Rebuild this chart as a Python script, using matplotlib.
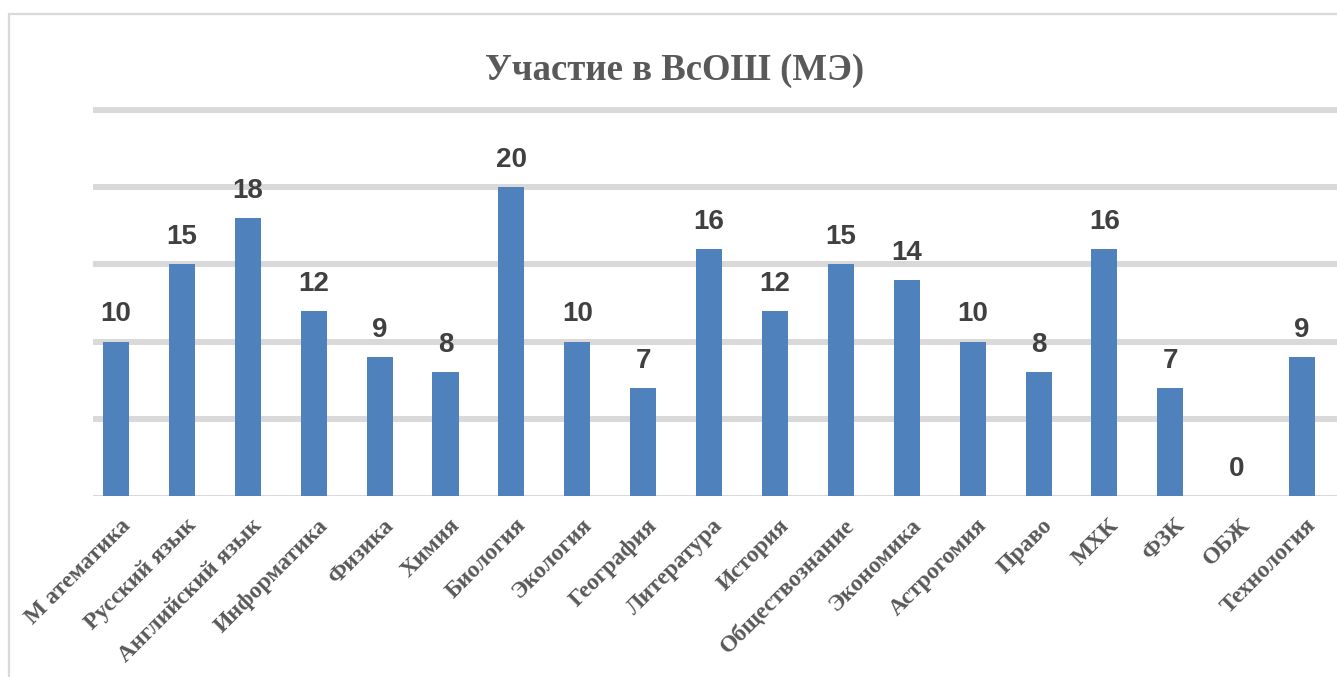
import matplotlib
matplotlib.use("Agg")
import matplotlib.pyplot as plt
import matplotlib.transforms as mtransforms
from matplotlib.patches import Rectangle

categories = ["М атематика", "Русский язык", "Английский язык", "Информатика",
              "Физика", "Химия", "Биология", "Экология", "География",
              "Литература", "История", "Обществознание", "Экономика",
              "Астрогомия", "Право", "МХК", "ФЗК", "ОБЖ", "Технология"]
values = [10, 15, 18, 12, 9, 8, 20, 10, 7, 16, 12, 15, 14, 10, 8, 16, 7, 0, 9]
title = "Участие в ВсОШ (МЭ)"

W, H = 1337, 677
fig = plt.figure(figsize=(W / 100, H / 100), dpi=100)
fig.patch.set_facecolor("white")

# chart frame
fig.patches.append(Rectangle((8.5 / W, -0.1), 1.2, 1.1 - 13.5 / H,
                             transform=fig.transFigure, fill=False,
                             edgecolor="#D9D9D9", linewidth=1.6))

left, right = 93, 1337
bottom, top = 496, 110
ax = fig.add_axes([left / W, 1 - bottom / H, (right - left) / W, (bottom - top) / H])
ax.set_xlim(-0.35, 18.53)
ax.set_ylim(0, 25)

x = list(range(len(categories)))
bars = ax.bar(x, values, width=0.395, color="#4F81BD", zorder=3)

for v in [5, 10, 15, 20, 25]:
    ax.axhline(v, color="#D9D9D9", linewidth=4.3, zorder=1, clip_on=False,
               solid_capstyle="butt")
ax.axhline(0, color="#D9D9D9", linewidth=1.5, zorder=2, solid_capstyle="butt")

for xi, v in zip(x, values):
    ax.annotate(str(v), (xi, v), xytext=(0, 14.5), textcoords="offset points",
                ha="center", va="baseline", fontsize=20, fontweight="bold",
                family="Liberation Sans", color="#404040", zorder=4)

for s in ax.spines.values():
    s.set_visible(False)
ax.set_yticks([])
ax.set_xticks(x)
ax.set_xticklabels(categories, rotation=45, ha="right", va="center",
                   rotation_mode="anchor", fontsize=17, fontweight="bold",
                   family="Liberation Serif", color="#595959")
ax.tick_params(axis="x", length=0, pad=19)
offset = mtransforms.ScaledTranslation(11 / 100, 0, fig.dpi_scale_trans)
for lab in ax.get_xticklabels():
    lab.set_transform(lab.get_transform() + offset)

fig.text(675 / W, 1 - 80 / H, title, ha="center", va="baseline",
         fontsize=26.5, fontweight="bold", family="Liberation Serif", color="#595959")

fig.savefig("out.png", dpi=100, facecolor="white")
